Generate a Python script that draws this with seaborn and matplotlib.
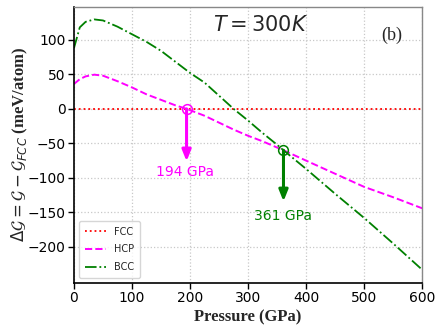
import matplotlib
matplotlib.use("Agg")
import matplotlib.pyplot as plt
import seaborn as sns
import pandas as pd
import numpy as np

# ---- data ----
bcc_p = [0, 10, 20, 35, 50, 75, 100, 125, 150, 175, 200, 225, 250, 275, 300, 325, 350, 361, 400, 450, 500, 550, 600]
bcc_g = [88, 118, 126, 129.5, 128, 119, 108, 97, 84, 68, 52, 38, 19, 0, -17, -35, -52, -60, -87, -123, -158, -195, -233]
hcp_p = [0, 10, 20, 35, 50, 75, 100, 125, 150, 175, 194, 225, 250, 275, 300, 325, 361, 400, 450, 500, 550, 600]
hcp_g = [36, 43, 47, 49.5, 48, 40, 31, 21, 13, 5, 0, -10, -20, -30, -39, -47, -60, -75, -94, -113, -128, -144]
fcc_p = [0, 600]
fcc_g = [0, 0]
trans_p = [194, 361]
trans_g = [0, -60]
trans_labels = ["194 GPa", "361 GPa"]
title_text = r"$T = 300K$"
panel_text = "(b)"

sns.set_theme(style="whitegrid")
plt.rcParams["font.family"] = ["DejaVu Sans"]

fig = plt.figure(figsize=(4.43, 3.32), dpi=100)
ax = fig.add_axes([0.167, 0.148, 0.786, 0.832])

df_fcc = pd.DataFrame({"P": fcc_p, "G": fcc_g})
df_hcp = pd.DataFrame({"P": hcp_p, "G": hcp_g})
df_bcc = pd.DataFrame({"P": bcc_p, "G": bcc_g})

sns.lineplot(data=df_fcc, x="P", y="G", ax=ax, color="red", linestyle=":", lw=1.3, label="FCC")
sns.lineplot(data=df_hcp, x="P", y="G", ax=ax, color="magenta", linestyle="--", lw=1.4, label="HCP")
sns.lineplot(data=df_bcc, x="P", y="G", ax=ax, color="green", linestyle="-.", lw=1.3, label="BCC")

colors = ["magenta", "green"]
for p, g, lab, c in zip(trans_p, trans_g, trans_labels, colors):
    ax.plot([p], [g], marker="o", ms=7, mfc="none", mec=c, mew=1.1, ls="none")
    ax.annotate("", xy=(p, g - (76 if c == "magenta" else 74)), xytext=(p, g),
                arrowprops=dict(arrowstyle="-|>,head_width=0.22,head_length=0.55", lw=2.2, color=c,
                                shrinkA=0, shrinkB=0))
ax.text(191, -92, trans_labels[0], color="magenta", fontsize=10, ha="center", va="center")
ax.text(360, -155, trans_labels[1], color="green", fontsize=10, ha="center", va="center")

ax.text(0.535, 0.934, title_text, transform=ax.transAxes, fontsize=15, ha="center", va="center")
ax.text(0.914, 0.895, panel_text, transform=ax.transAxes, fontsize=13, ha="center", va="center",
        family="Liberation Serif")

ax.set_xlim(0, 600)
ax.set_ylim(-252, 148)
ax.set_xticks([0, 100, 200, 300, 400, 500, 600])
ax.set_yticks([-200, -150, -100, -50, 0, 50, 100])
ax.tick_params(axis="both", labelsize=10, direction="out", length=4, width=1, color="black",
               left=True, bottom=True, pad=2, labelcolor="black")
ax.grid(True, linestyle=":", color="#c8c8c8", lw=0.9)

ax.set_xlabel("Pressure (GPa)", family="Liberation Serif", fontweight="bold", fontsize=12, labelpad=3)
ax.set_ylabel(r"$\Delta\mathcal{G} = \mathcal{G} - \mathcal{G}_{FCC}$ (meV/atom)",
              family="Liberation Serif", fontweight="bold", fontsize=12, labelpad=-2)

for s in ["left", "bottom"]:
    ax.spines[s].set_color("black")
    ax.spines[s].set_linewidth(1.2)
for s in ["top", "right"]:
    ax.spines[s].set_color("#888888")
    ax.spines[s].set_linewidth(1.0)

leg = ax.legend(loc="lower left", fontsize=7, frameon=True, handlelength=2.2, borderpad=0.6,
                labelspacing=0.8)
leg.get_frame().set_edgecolor("#cccccc")

fig.savefig("out.png", dpi=100)
